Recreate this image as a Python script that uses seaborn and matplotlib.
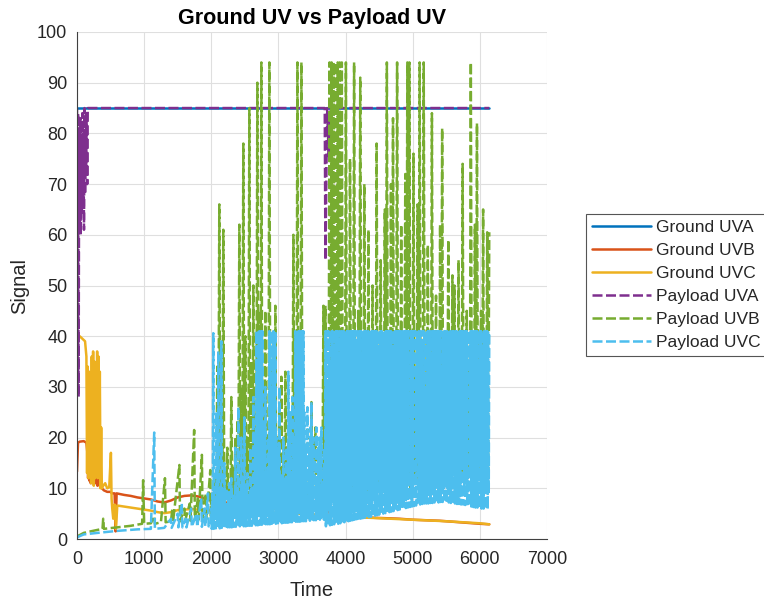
import numpy as np
import pandas as pd
import matplotlib
matplotlib.use("Agg")
import matplotlib.pyplot as plt
import seaborn as sns

# ---------------- data ----------------
T_END = 6140

ground_uva_t = [0, 6140]
ground_uva_y = [85, 85]

ground_uvb_t = [0, 15, 40, 100, 140, 155, 165, 175, 185, 195, 205, 215, 230, 245, 260, 275,
                290, 305, 320, 340, 370, 400, 450, 500, 520, 560, 575, 590, 700, 800, 900,
                1000, 1100, 1200, 1300, 1400, 1500, 1600, 1700, 1800, 1900, 2000, 2200, 2400,
                2600, 2800, 3000, 3200, 3400, 3600, 3800, 4000, 4200, 4400, 4600, 4800, 5000,
                5200, 5400, 5600, 5800, 6000, 6140]
ground_uvb_y = [13.3, 19, 19.2, 19.3, 19, 17, 12, 15, 11.5, 14.5, 11, 13.5, 15.5, 11.5, 13, 11,
                14, 10.5, 12, 10.5, 10, 9.6, 9.3, 9.3, 9.0, 9.0, 1.5, 9.0, 8.7, 8.5, 8.2,
                8.0, 7.8, 7.4, 7.2, 7.6, 8.2, 8.5, 8.6, 8.4, 8.0, 7.6, 7.2, 7.0,
                6.9, 7.1, 7.3, 7.0, 6.5, 6.0, 5.0, 4.4, 4.3, 4.2, 4.1, 4.0, 3.8,
                3.7, 3.6, 3.4, 3.2, 3.0, 2.9]

ground_uvc_t = [0, 10, 40, 80, 120, 140, 150, 160, 170, 180, 190, 200, 210, 220, 230, 240, 250,
                260, 270, 280, 290, 300, 310, 320, 330, 340, 350, 360, 370, 390, 420, 450, 480,
                505, 515, 525, 540, 560, 580, 600, 700, 800, 900, 1000, 1100, 1200, 1300, 1400,
                1500, 1700, 1900, 2100, 2400, 2700, 3000, 3300, 3600, 3800, 4000, 4500, 5000,
                5500, 6000, 6140]
ground_uvc_y = [35, 39.5, 40, 39.5, 39, 36, 13, 34, 12, 33, 15, 27, 11, 36, 14, 37, 10.5,
                35, 12, 30, 16, 37, 12, 36, 14, 33, 10, 22, 10, 10.5, 11, 10, 10.2,
                17, 8, 6, 4, 6.8, 2, 6.6, 6.4, 6.2, 6.0, 5.8, 5.6, 5.3, 5.1, 5.3,
                5.7, 5.9, 5.7, 5.5, 5.3, 5.2, 5.2, 5.0, 4.8, 4.6, 4.4, 4.1, 3.8,
                3.5, 3.1, 2.9]

payload_uva_t = [0, 8, 16, 24, 32, 40, 48, 56, 64, 72, 80, 88, 96, 104, 112, 120, 128, 136,
                 144, 152, 160, 3690, 3700, 3725, 3750, 3780, 6140]
payload_uva_y = [85, 30, 84, 28, 80, 62, 83, 60, 78, 64, 84, 66, 80, 61, 85, 68, 79, 72,
                 84, 70, 85, 85, 55, 85, 75, 85, 85]

# Payload UVB: early sparse part
payload_uvb_early_t = [0, 100, 200, 380, 390, 400, 600, 800, 970, 985, 1000, 1100, 1150, 1160,
                       1250, 1310, 1320, 1400, 1420, 1430, 1525, 1535, 1600, 1610, 1680, 1690,
                       1745, 1755, 1800, 1810, 1860, 1870, 1920, 1930, 1985, 1995]
payload_uvb_early_y = [0.5, 1.2, 1.5, 2.0, 4.0, 2.0, 2.3, 2.6, 3.0, 11.6, 3.0, 3.1, 4.5, 3.0,
                       3.3, 12, 3.3, 3.5, 6, 3.4, 14.6, 3.5, 6, 3.6, 7, 3.6,
                       21.5, 3.8, 8, 3.8, 16.6, 3.8, 9, 4.0, 13.6, 4.0]
# middle part 2000-3700: peak / trough pairs
payload_uvb_mid_hi = [9, 6, 12, 34, 66, 25, 61, 12, 18, 10, 28, 14, 20, 23.5, 62, 30, 78, 40,
                      20, 85, 35, 50, 25, 90, 45, 94, 30, 45, 20, 94, 35, 30, 46, 20, 25, 32,
                      18, 33, 15, 20, 22, 60, 18, 94, 30, 94, 25, 18, 22, 15, 27, 20, 22, 12,
                      18, 15, 46]
payload_uvb_mid_lo = [4.0, 5.5, 4.0, 7.0, 4.1, 6.0, 4.1, 8.0, 4.2, 5.0, 4.2, 7.5, 4.3, 6.0, 4.3,
                      9.0, 4.4, 5.5, 4.4, 7.0, 4.5, 6.5, 4.5, 8.5, 4.6, 5.5, 4.6, 7.0, 4.7,
                      9.5, 4.7, 6.0, 4.8, 8.0, 4.8, 5.5, 4.9, 7.5, 4.9, 6.0, 5.0, 9.0, 5.0,
                      6.5, 5.0, 8.0, 5.1, 5.5, 5.1, 7.0, 5.2, 9.0, 5.2, 6.0, 5.3, 8.0, 5.3]
# late part 3700-6140
payload_uvb_late_hi = [46, 30, 94, 94, 94, 94, 94, 94, 94, 35, 94, 28, 75, 30, 94, 25, 45, 91,
                       30, 70, 25, 61, 35, 50, 28, 78, 30, 55, 22, 65, 94, 30, 70, 83, 25, 94,
                       35, 62, 30, 72, 94, 94, 30, 76, 25, 66, 94, 30, 94, 28, 58, 30, 84, 25,
                       48, 32, 62, 81, 28, 35, 59, 30, 52, 50, 25, 55, 30, 74, 28, 45, 35, 94,
                       30, 62, 82, 28, 45, 65, 30, 60.5]
payload_uvb_late_lo = [6, 8, 9, 8, 10, 9, 8, 10, 9, 8, 10, 9, 11, 9, 10, 8, 11, 9, 10, 12,
                       9, 10, 11, 9, 12, 10, 11, 9, 12, 10, 11, 13, 10, 12, 11, 13, 10, 12,
                       11, 13, 12, 10, 13, 11, 12, 14, 11, 13, 12, 14, 11, 13, 12, 14, 13,
                       11, 14, 12, 13, 15, 12, 14, 13, 15, 12, 14, 13, 15, 14, 12, 15, 13,
                       14, 12, 15, 13, 14, 12, 15, 13]

# Payload UVC: early sparse part
payload_uvc_early_t = [0, 30, 100, 300, 600, 900, 1100, 1150, 1160, 1300, 1400, 1410, 1500,
                       1510, 1560, 1570, 1620, 1630, 1700, 1710, 1780, 1790, 1850, 1860, 1900,
                       1910, 1950, 1960, 1995]
payload_uvc_early_y = [0.3, 0.5, 0.9, 1.2, 1.6, 1.9, 2.0, 21, 2.0, 2.2, 4, 2.2, 5, 2.3, 7,
                       2.3, 4, 2.3, 6, 2.4, 5, 2.4, 8, 2.4, 6, 2.5, 9, 2.5, 2.5]
payload_uvc_mid_hi = [
    6, 9, 40.6, 7, 10, 25, 7, 37, 9, 6, 39, 8, 6, 15, 7, 10, 6, 9, 11,
    7, 12, 6, 9, 8, 18, 7, 10, 26, 9, 6, 20, 11, 8, 24, 7, 10, 13, 9,
    7, 18, 10, 8, 28, 12, 20, 41, 35, 41, 41, 30, 41, 41, 22, 11, 30, 9, 13,
    20, 41, 38, 41, 30, 41, 39, 41, 20, 11, 18, 30, 9, 13, 11, 20, 8, 12, 18,
    9, 33, 11, 25, 13, 28, 20, 12, 41, 41, 35, 41, 41, 30, 41, 41, 41, 25, 18,
    12, 26, 9, 18, 22, 27, 11, 20, 17, 12, 22, 10, 18, 20, 9, 22, 13, 11, 18]
payload_uvc_mid_lo = [
    2.0, 3.0, 2.0, 4.0, 2.1, 2.6, 2.1, 3.5, 2.1, 4.5, 2.2, 2.8, 2.2, 3.6, 2.2, 5.0, 2.3, 3.0, 2.3,
    4.0, 2.3, 3.0, 2.4, 5.0, 2.4, 3.2, 2.4, 4.0, 2.5, 3.0, 2.5, 5.5, 2.5, 3.0, 2.5, 4.2, 2.6, 3.2,
    2.6, 5.0, 2.6, 3.3, 2.7, 4.5, 2.7, 3.0, 2.7, 6.0, 2.8, 3.4, 2.8, 4.4, 2.8, 3.2, 2.9, 5.5, 2.9,
    3.4, 2.9, 4.6, 3.0, 3.2, 3.0, 6.0, 3.0, 3.5, 3.1, 4.5, 3.1, 3.4, 3.1, 5.5, 3.2, 3.6, 3.2, 4.8,
    3.2, 3.5, 3.3, 6.0, 3.3, 3.8, 3.3, 4.6, 3.4, 3.6, 3.4, 5.5, 3.4, 3.8, 3.5, 4.8, 3.5, 3.7, 3.5,
    6.0, 3.6, 4.0, 3.6, 5.0, 3.6, 3.9, 3.7, 6.5, 3.7, 4.0, 3.7, 5.2, 3.8, 4.2, 3.8, 6.0, 3.8, 4.0]
payload_uvc_late_hi = [
    41, 30, 41, 41, 35, 41, 41, 41, 38, 41, 41, 41, 41, 36, 41, 41, 41, 41, 41, 39,
    41, 41, 41, 37, 41, 41, 41, 41, 41, 41, 38, 41, 41, 41, 41, 41, 34, 41, 41, 41,
    41, 41, 41, 41, 39, 41, 41, 41, 41, 41, 41, 36, 41, 41, 41, 41, 41, 41, 40, 41,
    41, 41, 41, 41, 41, 41, 38, 41, 41, 41, 41, 41, 41, 41, 35, 41, 41, 41, 41, 41,
    41, 41, 37, 41, 41, 41, 41, 41, 41, 33, 41, 41, 41, 41, 38, 41, 41, 41, 41, 30,
    41, 41, 41, 41, 36, 41, 41, 41, 28, 41, 41, 41, 41, 41, 34, 41, 41, 41, 38, 41,
    41, 32, 41, 41, 41, 41, 29, 41, 41, 41, 37, 41, 41, 41, 41, 33, 41, 41, 41, 41,
    41, 36, 41, 41, 41, 30, 41, 41, 41, 41, 35, 41, 41, 38, 41, 41, 31, 41, 41, 41]
payload_uvc_late_lo = [
    2.5, 4, 2.6, 6, 2.7, 3.5, 2.8, 8, 2.9, 4, 3.0, 5, 3.0, 10, 3.1, 4, 3.2, 6, 3.3, 4,
    3.4, 7, 3.5, 4, 3.6, 12, 3.7, 5, 3.8, 6, 3.9, 4.5, 4.0, 9, 4.0, 5, 4.1, 7, 4.2, 5,
    4.2, 11, 4.3, 6, 4.4, 5, 4.5, 8, 4.6, 6, 4.7, 14, 4.8, 6, 4.9, 7, 5.0, 9, 5.1, 6,
    5.2, 10, 5.3, 7, 5.4, 12, 5.5, 7, 5.6, 9, 5.7, 7, 5.8, 15, 5.9, 8, 6.0, 10, 6.1, 8,
    6.2, 12, 6.3, 8, 6.4, 10, 6.5, 9, 6.6, 16, 6.7, 9, 6.8, 11, 6.9, 9, 7.0, 13, 7.0, 10,
    7.0, 12, 7.1, 9, 7.1, 14, 7.2, 10, 7.2, 12, 7.2, 10, 7.3, 15, 7.3, 10, 7.3, 12, 7.2, 10,
    7.2, 13, 7.1, 10, 7.0, 16, 7.0, 10, 6.9, 12, 6.9, 10, 6.8, 14, 6.8, 10, 6.7, 12, 6.6, 9,
    6.5, 13, 6.4, 9, 6.3, 11, 6.2, 9, 6.2, 15, 6.1, 9, 6.0, 12, 6.0, 9, 5.9, 11, 5.9, 9]

MID_START, MID_END = 2000, 3700
LATE_START, LATE_END = 3700, T_END


def pairs_series(hi, lo, t0, t1):
    n = len(hi)
    t_hi = np.linspace(t0, t1, n, endpoint=False)
    step = (t1 - t0) / n
    t = np.empty(2 * n)
    y = np.empty(2 * n)
    t[0::2] = t_hi
    t[1::2] = t_hi + step / 2
    y[0::2] = hi
    y[1::2] = lo
    return t, y


def build(early_t, early_y, mid_hi, mid_lo, late_hi, late_lo):
    tm, ym = pairs_series(mid_hi, mid_lo, MID_START, MID_END)
    tl, yl = pairs_series(late_hi, late_lo, LATE_START, LATE_END)
    t = np.concatenate([early_t, tm, tl, [LATE_END]])
    y = np.concatenate([early_y, ym, yl, [late_hi[-1]]])
    return t, y


uvb_t, uvb_y = build(payload_uvb_early_t, payload_uvb_early_y, payload_uvb_mid_hi,
                     payload_uvb_mid_lo, payload_uvb_late_hi, payload_uvb_late_lo)
uvc_t, uvc_y = build(payload_uvc_early_t, payload_uvc_early_y, payload_uvc_mid_hi,
                     payload_uvc_mid_lo, payload_uvc_late_hi, payload_uvc_late_lo)

series = [
    ("Ground UVA", ground_uva_t, ground_uva_y, "#0072BD", "-"),
    ("Ground UVB", ground_uvb_t, ground_uvb_y, "#D95319", "-"),
    ("Ground UVC", ground_uvc_t, ground_uvc_y, "#EDB120", "-"),
    ("Payload UVA", payload_uva_t, payload_uva_y, "#7E2F8E", "--"),
    ("Payload UVB", uvb_t, uvb_y, "#77AC30", "--"),
    ("Payload UVC", uvc_t, uvc_y, "#4DBEEE", "--"),
]

# ---------------- style ----------------
sns.set_theme(style="whitegrid")
plt.rcParams["font.family"] = ["Liberation Sans", "DejaVu Sans"]

fig = plt.figure(figsize=(7.64, 6.03), dpi=100)
ax = fig.add_axes([77 / 764, 1 - 539 / 603, (547 - 77) / 764, (539 - 32) / 603])

handles = []
for name, t, y, color, ls in series:
    df = pd.DataFrame({"Time": np.asarray(t, float), "Signal": np.asarray(y, float)})
    sns.lineplot(data=df, x="Time", y="Signal", ax=ax, color=color, linewidth=1.8,
                 estimator=None, sort=False, label=name)
    line = ax.lines[-1]
    if ls == "--":
        line.set_dashes([4.0, 1.4])
    handles.append(line)

ax.set_xlim(0, 7000)
ax.set_ylim(0, 100)
ax.set_xticks(range(0, 7001, 1000))
ax.set_yticks(range(0, 101, 10))

ax.set_facecolor("white")
ax.grid(True, color="#dfdfdf", linewidth=0.8)
ax.set_axisbelow(True)
for s in ["top", "right"]:
    ax.spines[s].set_visible(False)
for s in ["left", "bottom"]:
    ax.spines[s].set_color("#404040")
    ax.spines[s].set_linewidth(0.8)
ax.tick_params(axis="both", direction="in", length=4, width=0.8, color="#404040",
               labelsize=13, labelcolor="#262626")
ax.tick_params(axis="x", pad=9)
ax.tick_params(axis="y", pad=7)

ax.set_title("Ground UV vs Payload UV", fontsize=15.5, fontweight="bold", color="black", pad=6)
ax.set_xlabel("Time", fontsize=14.5, color="#262626", labelpad=9)
ax.set_ylabel("Signal", fontsize=14.5, color="#262626", labelpad=6)

leg = ax.legend(handles=handles, labels=[s[0] for s in series], loc="upper left",
                bbox_to_anchor=(586 / 764, 1 - 214 / 603), bbox_transform=fig.transFigure,
                fontsize=12.5, frameon=True, fancybox=False, framealpha=1, edgecolor="#555555",
                handlelength=3.4, handletextpad=0.3, borderpad=0.35, labelspacing=0.45,
                borderaxespad=0)
leg.get_frame().set_linewidth(0.8)
for txt in leg.get_texts():
    txt.set_color("#262626")

fig.savefig("out.png", dpi=100, facecolor="white")
